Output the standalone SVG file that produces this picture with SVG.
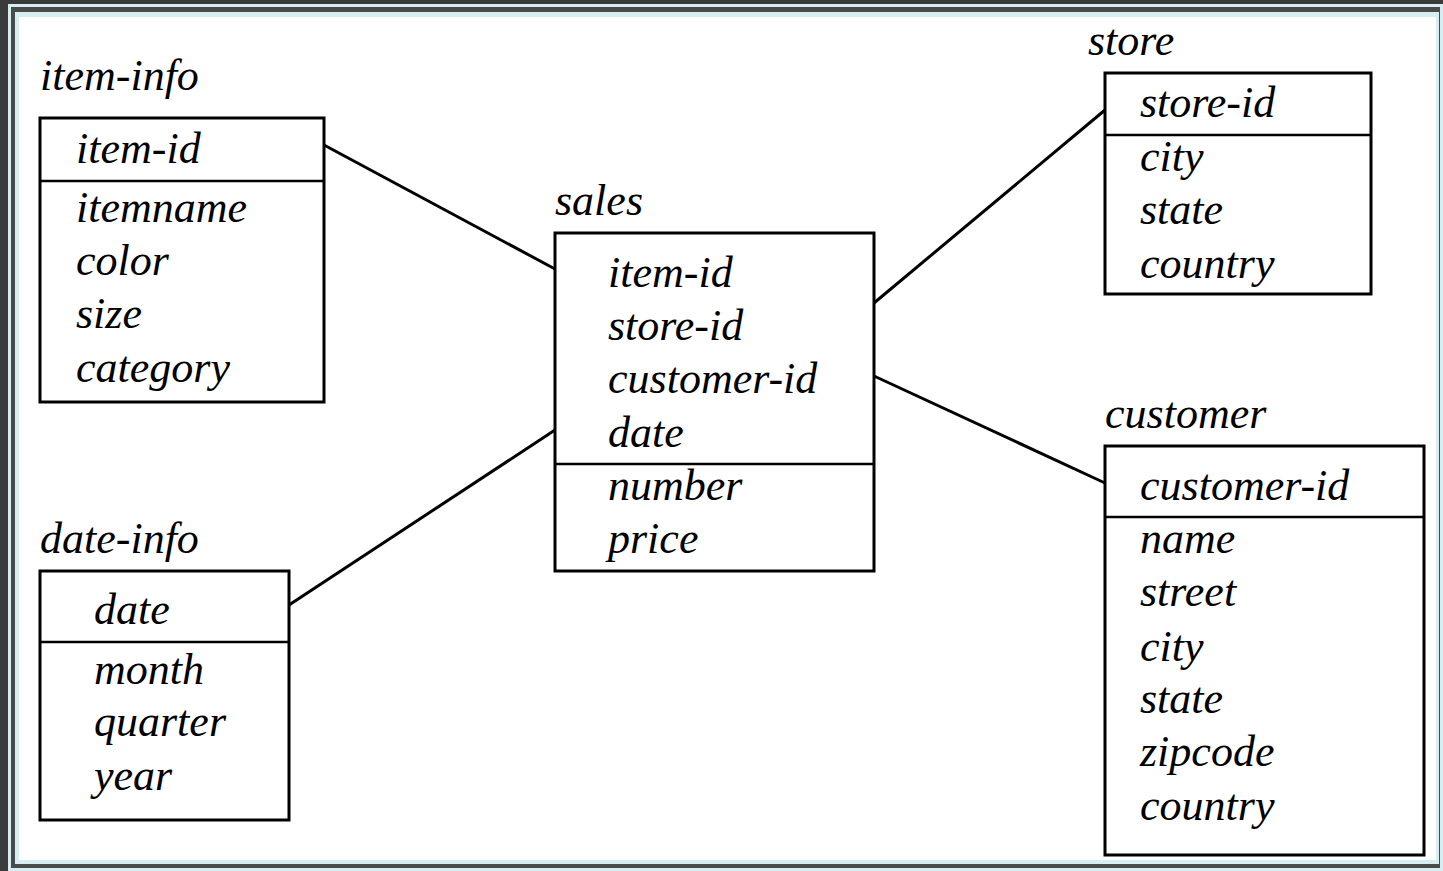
<svg xmlns="http://www.w3.org/2000/svg" width="1443" height="871" viewBox="0 0 1443 871">
  <style>
    .box { fill: #ffffff; stroke: #000000; stroke-width: 3; }
    .div { stroke: #000000; stroke-width: 2.5; }
    .link { stroke: #000000; stroke-width: 3; fill: none; }
    text { font-family: "Liberation Serif", "DejaVu Serif", serif; font-style: italic; font-size: 44px; fill: #000000; }
  </style>

  <!-- page frame -->
  <rect x="0" y="0" width="1443" height="871" fill="#3b3b3b"/>
  <rect x="8" y="4" width="1435" height="867" fill="#d6eef2"/>
  <rect x="11" y="7" width="1429" height="861" fill="#4a4a4a"/>
  <rect x="15" y="12" width="1424" height="852" fill="#d6eef2"/>
  <rect x="19" y="17" width="1417" height="843" fill="#ffffff"/>

  <!-- relationships between the fact table and the dimension tables -->
  <g id="connectors">
    <line class="link" x1="324" y1="145" x2="555" y2="269"/>
    <line class="link" x1="289" y1="605" x2="555" y2="430"/>
    <line class="link" x1="874" y1="303" x2="1105" y2="110"/>
    <line class="link" x1="874" y1="376" x2="1105" y2="483"/>
  </g>

  <g id="item-info">
    <text x="40" y="90">item-info</text>
    <rect class="box" x="40" y="118" width="284" height="284"/>
    <line class="div" x1="40" y1="181" x2="324" y2="181"/>
    <text x="76" y="163">item-id</text>
    <text x="76" y="222">itemname</text>
    <text x="76" y="275">color</text>
    <text x="76" y="328">size</text>
    <text x="76" y="382">category</text>
  </g>

  <g id="sales">
    <text x="555" y="215">sales</text>
    <rect class="box" x="555" y="233" width="319" height="338"/>
    <line class="div" x1="555" y1="464" x2="874" y2="464"/>
    <text x="608" y="287">item-id</text>
    <text x="608" y="340">store-id</text>
    <text x="608" y="393">customer-id</text>
    <text x="608" y="447">date</text>
    <text x="608" y="500">number</text>
    <text x="608" y="553">price</text>
  </g>

  <g id="store">
    <text x="1088" y="55">store</text>
    <rect class="box" x="1105" y="73" width="266" height="221"/>
    <line class="div" x1="1105" y1="135" x2="1371" y2="135"/>
    <text x="1140" y="117">store-id</text>
    <text x="1140" y="171">city</text>
    <text x="1140" y="224">state</text>
    <text x="1140" y="278">country</text>
  </g>

  <g id="customer">
    <text x="1105" y="428">customer</text>
    <rect class="box" x="1105" y="446" width="319" height="409"/>
    <line class="div" x1="1105" y1="517" x2="1424" y2="517"/>
    <text x="1140" y="500">customer-id</text>
    <text x="1140" y="553">name</text>
    <text x="1140" y="606">street</text>
    <text x="1140" y="661">city</text>
    <text x="1140" y="713">state</text>
    <text x="1140" y="766">zipcode</text>
    <text x="1140" y="820">country</text>
  </g>

  <g id="date-info">
    <text x="40" y="553">date-info</text>
    <rect class="box" x="40" y="571" width="249" height="249"/>
    <line class="div" x1="40" y1="642" x2="289" y2="642"/>
    <text x="94" y="624">date</text>
    <text x="94" y="684">month</text>
    <text x="94" y="736">quarter</text>
    <text x="94" y="790">year</text>
  </g>
</svg>
